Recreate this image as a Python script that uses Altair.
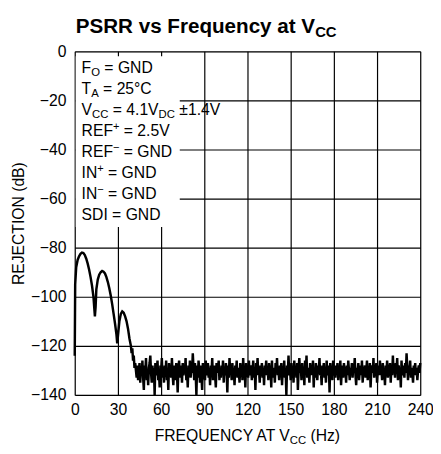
import altair as alt
import pandas as pd

# ---------------- data ----------------
lobe_freq = [0, 0.3, 1, 2, 3, 4, 5, 6, 7, 8, 9, 10, 11, 12, 13, 13.5, 14, 14.5, 15, 16,
             17, 18, 19, 20, 21, 22, 23, 24, 25, 26, 27, 28, 29, 29.5, 30, 31, 32, 33, 34,
             35, 36, 37, 38, 39, 39.5, 40, 40.5, 41, 41.5, 42]
lobe_db = [-124, -95, -88, -85, -83.5, -82.5, -82, -82.2, -83, -84.5, -86.5, -89, -92, -95.5,
           -100, -104, -108, -104, -97, -93, -91, -90, -89.5, -89.8, -90.5, -92, -94, -96.5,
           -99.5, -103, -107, -111, -115.5, -119, -116, -110, -107, -106, -106.5, -108, -110,
           -113, -117, -120, -123, -121, -126, -124, -129, -127]

noise_start = 42.5
noise_step = 0.5
noise_db = [
    -130, -133, -128, -134, -131, -127, -135, -129, -132, -126, -133, -138, -128, -131, -125, -134, -130, -136, -129, -127,
    -124, -131, -135, -128, -133, -129, -140, -127, -132, -130, -126, -134, -131, -137, -128, -130, -125, -133, -129, -135,
    -128, -132, -126, -134, -130, -138, -127, -131, -129, -133, -125, -132, -136, -128, -130, -134, -127, -131, -139, -129,
    -126, -133, -130, -128, -135, -127, -132, -129, -131, -125, -134, -130, -137, -128, -132, -126, -133, -129, -131, -123,
    -129, -134, -127, -131, -140, -128, -133, -126, -130, -135, -128, -132, -138, -127, -131, -129, -134, -126, -132, -130,
    -127, -133, -129, -136, -128, -131, -125, -134, -130, -128, -132, -137, -127, -131, -129, -126, -134, -130, -133, -128,
    -131, -126, -135, -129, -132, -127, -130, -139, -128, -133, -125, -131, -129, -134, -127, -132, -130, -136, -128, -131,
    -126, -133, -129, -131, -135, -127, -130, -128, -134, -125, -132, -129, -137, -127, -131, -130, -133, -126, -132, -129,
    -128, -134, -130, -126, -133, -129, -138, -127, -131, -125, -132, -130, -135, -128, -131, -127, -133, -129, -136, -128,
    -130, -126, -132, -129, -134, -127, -131, -128, -137, -126, -133, -130, -129, -135, -127, -131, -125, -132, -130, -134,
    -128, -131, -127, -136, -129, -132, -126, -133, -130, -140, -128, -131, -124, -132, -129, -134, -127, -131, -130, -135,
    -126, -132, -129, -133, -127, -138, -130, -125, -131, -128, -134, -127, -132, -129, -136, -126, -131, -124, -133, -129,
    -130, -135, -127, -132, -128, -131, -126, -137, -129, -133, -127, -130, -134, -128, -131, -125, -132, -130, -136, -128,
    -131, -127, -133, -129, -135, -126, -132, -130, -128, -139, -127, -131, -129, -134, -126, -132, -130, -133, -128, -131,
    -127, -134, -129, -131, -126, -136, -130, -128, -133, -127, -131, -129, -135, -128, -132, -126, -130, -134, -129, -131,
    -127, -133, -128, -130, -125, -132, -136, -129, -131, -127, -134, -130, -128, -132, -126, -135, -129, -131, -128, -133,
    -130, -126, -134, -129, -132, -127, -137, -130, -128, -131, -125, -133, -129, -131, -127, -135, -130, -128, -132, -126,
    -131, -129, -134, -127, -132, -130, -136, -128, -131, -126, -133, -129, -130, -127, -135, -128, -132, -124, -131, -129,
    -133, -127, -130, -125, -134, -128, -131, -129, -137, -126, -132, -130, -128, -133, -127, -131, -123, -129, -134, -128,
    -130, -126, -133, -129, -131, -135, -128, -130, -127, -132, -129, -134, -130, -128, -131, -127,
]

x_ticks = [0, 30, 60, 90, 120, 150, 180, 210, 240]
y_ticks = [0, -20, -40, -60, -80, -100, -120, -140]

noise_freq = [noise_start + noise_step * i for i in range(len(noise_db))]
df = pd.DataFrame({"freq": lobe_freq + noise_freq, "db": lobe_db + noise_db})

# ---------------- layout ----------------
FONT = "Liberation Sans"
W, H = 352, 350

ARIAL = {' ': 278, '=': 584, '+': 584, '−': 584, '±': 584, '.': 278, '°': 400,
         '(': 333, ')': 333, 'z': 500, 'd': 556, 'v': 556, 's': 556, 'r': 389,
         'e': 556, 'q': 611, 'u': 611, 'n': 611, 'c': 556, 'y': 556, 'a': 556, 't': 333}
for ch in '0123456789':
    ARIAL[ch] = 556
ARIAL.update({'A': 667, 'B': 667, 'C': 722, 'D': 722, 'E': 667, 'F': 611, 'G': 778,
              'H': 722, 'I': 278, 'J': 500, 'K': 667, 'L': 556, 'M': 833, 'N': 722,
              'O': 778, 'P': 667, 'Q': 778, 'R': 722, 'S': 667, 'T': 611, 'U': 722,
              'V': 667, 'W': 944, 'X': 667, 'Y': 667, 'Z': 611})


def tw(s, size):
    return sum(ARIAL.get(c, 556) for c in s) * size / 1000.0


one = pd.DataFrame({"k": [0]})


def txt(text, x, y, fs, align="left", bold=False):
    return alt.Chart(one).mark_text(
        text=text, font=FONT, fontSize=fs, align=align, baseline="alphabetic",
        fontWeight="bold" if bold else "normal", color="black",
    ).encode(x=alt.value(x), y=alt.value(y))


def seg_layers(segments, x0, base, size=16, bold=False):
    """segments: list of (text, kind) with kind 'n', 'sub', 'sup'."""
    layers = []
    x = x0
    for text, kind in segments:
        if kind == "n":
            fs, dy = size, 0
        elif kind == "sub":
            fs, dy = size * 0.72, size * 0.2
        else:
            fs, dy = size * 0.7, -size * 0.38
        stripped = text.lstrip(" ")
        lead = len(text) - len(stripped)
        x += lead * tw(" ", fs)
        layers.append(txt(stripped, x, base + dy, fs, bold=bold))
        x += tw(stripped, fs)
    return layers


# ---------------- chart ----------------
line = alt.Chart(df).mark_line(color="black", strokeWidth=2.5, interpolate="linear").encode(
    x=alt.X("freq:Q", scale=alt.Scale(domain=[0, 240], nice=False, zero=False),
            axis=alt.Axis(values=x_ticks, title=None, grid=True, gridColor="black",
                          gridWidth=1.2, gridOpacity=1, ticks=False, domain=False,
                          labelFont=FONT, labelFontSize=16, labelColor="black",
                          labelPadding=7, labelFlush=False, labelOverlap=False)),
    y=alt.Y("db:Q", scale=alt.Scale(domain=[-140, 0], nice=False, zero=False),
            axis=alt.Axis(values=y_ticks, title="REJECTION (dB)", grid=True,
                          gridColor="black", gridWidth=1.2, gridOpacity=1, ticks=False,
                          domain=False, labelFont=FONT, labelFontSize=16,
                          labelColor="black", labelPadding=9, labelFlush=False,
                          labelOverlap=False, format="d",
                          titleFont=FONT, titleFontSize=16, titleFontWeight="normal",
                          titleColor="black", titlePadding=4)),
)

mask = alt.Chart(one).mark_rect(color="white").encode(
    x=alt.value(1), x2=alt.value(107), y=alt.value(5), y2=alt.value(179)
)

layers = [mask, line]

# annotation block
ann_lines = [
    [("F", "n"), ("O", "sub"), (" = GND", "n")],
    [("T", "n"), ("A", "sub"), (" = 25°C", "n")],
    [("V", "n"), ("CC", "sub"), (" = 4.1V", "n"), ("DC", "sub"), (" ±1.4V", "n")],
    [("REF", "n"), ("+", "sup"), (" = 2.5V", "n")],
    [("REF", "n"), ("−", "sup"), (" = GND", "n")],
    [("IN", "n"), ("+", "sup"), (" = GND", "n")],
    [("IN", "n"), ("−", "sup"), (" = GND", "n")],
    [("SDI = GND", "n")],
]
for i, segs in enumerate(ann_lines):
    layers += seg_layers(segs, 7, 22 + 21.4 * i, size=16)

# title
title_segs = [("PSRR vs Frequency at V", "n"), ("CC", "sub")]
layers += seg_layers(title_segs, 1, -19, size=21, bold=True)

# x-axis title: main part right-aligned so the subscript attaches exactly
main_t, sub_t, tail_t = "FREQUENCY AT V", "CC", "(Hz)"
fs_sub = 16 * 0.72
total = tw(main_t, 16) - 3 + tw(sub_t, fs_sub) + tw(" " + tail_t, 16)
xc = W / 2 - total / 2 + tw(main_t, 16) - 3
layers.append(txt(main_t, xc, 397, 16, align="right"))
layers.append(txt(sub_t, xc, 397 + 16 * 0.2, fs_sub))
layers.append(txt(tail_t, xc + tw(sub_t, fs_sub) + tw(" ", 16), 397, 16))

chart = alt.layer(*layers).properties(
    width=W, height=H,
    autosize=alt.AutoSizeParams(type="none"),
    padding={"left": 68, "top": 40, "right": 13, "bottom": 56},
).configure_view(stroke="black", strokeWidth=1.6).configure(background="white")

chart.save("out.html", embed_options={"renderer": "svg", "actions": False})
